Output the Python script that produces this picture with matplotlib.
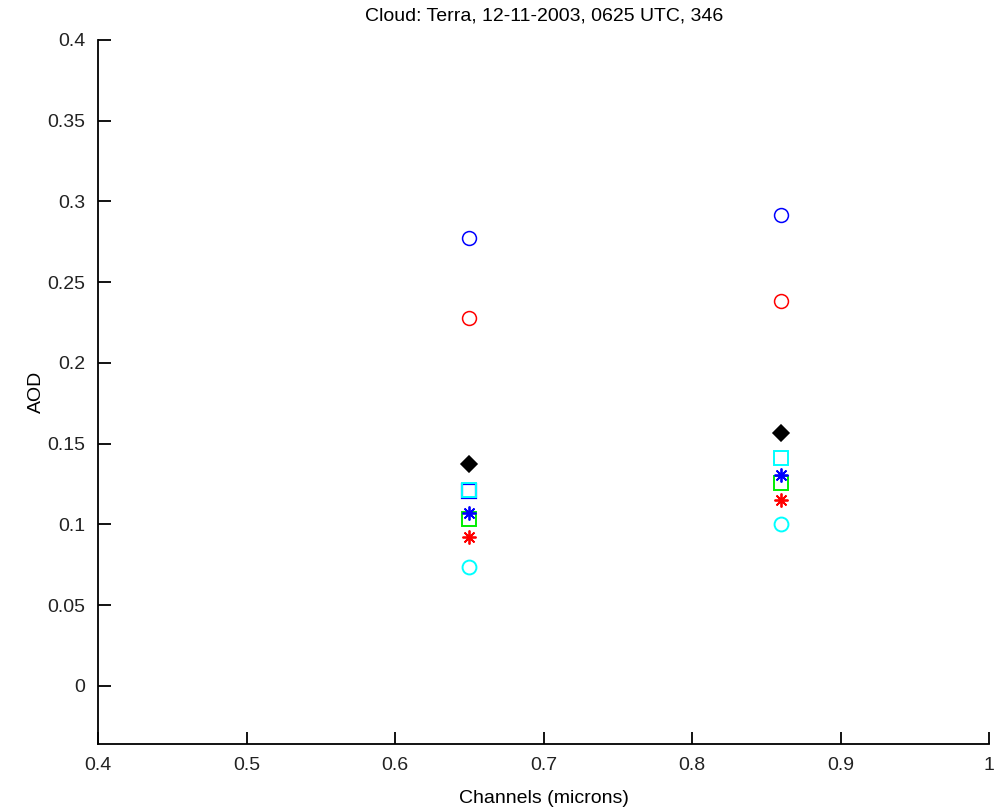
import numpy as np
import matplotlib
matplotlib.use("Agg")
import matplotlib.pyplot as plt

channels = [0.65, 0.86]

# AOD values per retrieval
blue_circle = [0.2774, 0.2916]
red_circle = [0.2279, 0.2384]
black_diamond = [0.1375, 0.1567]
blue_square = [0.1207, np.nan]
cyan_square = [0.1216, 0.1412]
green_square = [0.1034, 0.1257]
blue_star = [0.1070, 0.1306]
red_star = [0.0923, 0.1152]
cyan_circle = [0.0737, 0.1003]

plt.rcParams['font.family'] = ['Liberation Sans', 'DejaVu Sans']

fig = plt.figure(figsize=(9.97, 8.07), dpi=100)
ax = fig.add_axes([0.0983, 0.078, 0.894, 0.8725])

star = (8, 2, 0)
ms = 10
cyan = '#00ffff'
ax.plot(channels, blue_circle, 'o', mfc='none', mec='b', ms=ms, mew=1.1)
ax.plot(channels, red_circle, 'o', mfc='none', mec='r', ms=ms, mew=1.1)
ax.plot(channels, black_diamond, 'D', mfc='k', mec='k', ms=8, mew=1.1)
ax.plot(channels, blue_square, 's', mfc='none', mec='b', ms=ms, mew=1.6)
ax.plot(channels, cyan_square, 's', mfc='none', mec=cyan, ms=ms - 0.5, mew=1.4)
ax.plot(channels, green_square, 's', mfc='none', mec='#00ee00', ms=ms, mew=1.4)
ax.plot(channels, blue_star, marker=star, ls='none', color='b', ms=ms, mew=1.3)
ax.plot(channels, red_star, marker=star, ls='none', color='r', ms=ms, mew=1.3)
ax.plot(channels, cyan_circle, 'o', mfc='none', mec=cyan, ms=ms, mew=1.4)

ax.set_xlim(0.4, 1.0)
ax.set_ylim(-0.036, 0.4)
ax.set_xticks(np.arange(0.4, 1.01, 0.1))
ax.set_xticklabels(['0.4', '0.5', '0.6', '0.7', '0.8', '0.9', '1'])
ax.set_yticks(np.arange(0, 0.401, 0.05))
ax.set_yticklabels(['0', '0.05', '0.1', '0.15', '0.2', '0.25', '0.3', '0.35', '0.4'])

for s in ['top', 'right']:
    ax.spines[s].set_visible(False)
for s in ['left', 'bottom']:
    ax.spines[s].set_linewidth(1.3)
ax.tick_params(direction='in', length=9, width=1.3, labelsize=14, pad=9,
               labelcolor='#222222')

ax.set_xlabel('Channels (microns)', fontsize=14, labelpad=12)
ax.set_ylabel('AOD', fontsize=14, labelpad=2)
ax.set_title('Cloud: Terra, 12-11-2003, 0625 UTC, 346', fontsize=14, pad=14)

fig.savefig('out.png', dpi=100)
